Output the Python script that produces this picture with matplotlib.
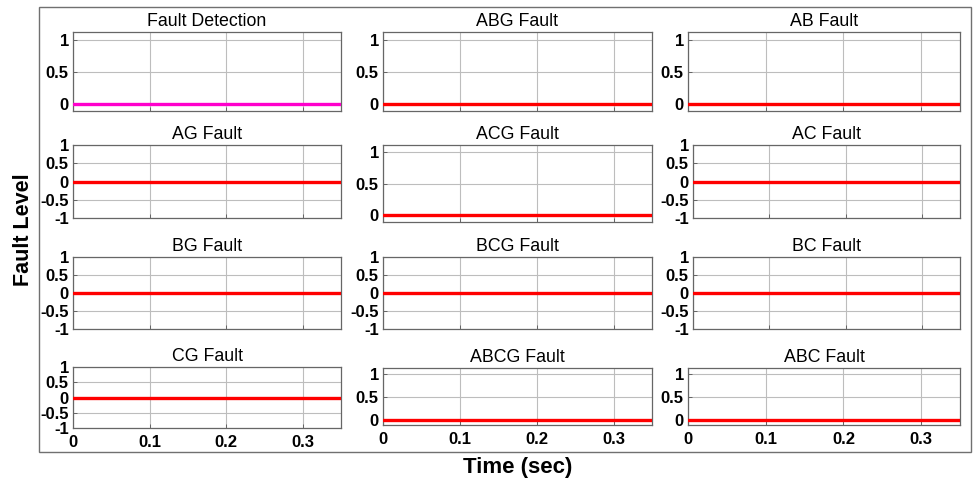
import matplotlib
matplotlib.use("Agg")
import matplotlib.pyplot as plt
from matplotlib.patches import Rectangle

# time axis of every trace (sec)
t = [0.0, 0.35]

titles = ["Fault Detection", "ABG Fault", "AB Fault",
          "AG Fault", "ACG Fault", "AC Fault",
          "BG Fault", "BCG Fault", "BC Fault",
          "CG Fault", "ABCG Fault", "ABC Fault"]

# fault level of each panel over time (flat zero everywhere)
fault_detection = [0, 0]
abg = [0, 0]
ab = [0, 0]
ag = [0, 0]
acg = [0, 0]
ac = [0, 0]
bg = [0, 0]
bcg = [0, 0]
bc = [0, 0]
cg = [0, 0]
abcg = [0, 0]
abc = [0, 0]
levels = [fault_detection, abg, ab, ag, acg, ac, bg, bcg, bc, cg, abcg, abc]

# panels whose y axis runs 0..1 (others -1..1)
unipolar = [True, True, True,
            False, True, False,
            False, False, False,
            False, True, True]

xticks = [0, 0.1, 0.2, 0.3]
xticklabels = ["0", "0.1", "0.2", "0.3"]

W, H = 973, 484
FONT = "Liberation Sans"

# axes boxes in pixels: (left, top, right, bottom)
def box(i):
    r, c = divmod(i, 3)
    uni = unipolar[i]
    lefts = [73, 383, 688 if uni else 693]
    rights = [341, 652, 960]
    rows = [(32, 111), (145, 222 if uni else 218), (257, 329),
            (368, 425) if uni else (367, 428)]
    top, bot = rows[r]
    return lefts[c], top, rights[c], bot

fig = plt.figure(figsize=(W / 100, H / 100), dpi=100)
fig.patches.append(Rectangle((39 / W, 1 - 452 / H), (971 - 39) / W, (452 - 7) / H,
                             transform=fig.transFigure, fill=False,
                             edgecolor="#707070", lw=1.0))

for i in range(12):
    x0, y0, x1, y1 = box(i)
    ax = fig.add_axes([x0 / W, 1 - y1 / H, (x1 - x0) / W, (y1 - y0) / H])
    color = "#ff00cc" if i == 0 else "#ff0000"
    ax.plot(t, levels[i], color=color, lw=2.4, zorder=3)
    ax.set_xlim(0, 0.35)
    if unipolar[i]:
        ax.set_ylim(-0.115, 1.12)
        yt = [0, 0.5, 1]
        ytl = ["0", "0.5", "1"]
    else:
        ax.set_ylim(-1, 1)
        yt = [-1, -0.5, 0, 0.5, 1]
        ytl = ["-1", "-0.5", "0", "0.5", "1"]
    ax.set_yticks(yt)
    ax.set_yticklabels(ytl, fontfamily=FONT, fontweight="bold", fontsize=12)
    ax.set_xticks(xticks)
    if i >= 9:
        ax.set_xticklabels(xticklabels, fontfamily=FONT, fontweight="bold", fontsize=12)
    else:
        ax.set_xticklabels([])
    ax.grid(True, color="#bdbdbd", lw=0.8)
    ax.set_axisbelow(True)
    ax.tick_params(direction="in", length=3, width=0.6, color="#555555")
    ax.tick_params(axis="x", pad=5)
    ax.tick_params(axis="y", pad=3)
    for s in ax.spines.values():
        s.set_color("#666666")
        s.set_linewidth(0.9)
    ax.set_title(titles[i], fontfamily=FONT, fontsize=12.8, pad=4)

fig.text(24 / W, 1 - 230 / H, "Fault Level", rotation=90, ha="center", va="center",
         fontfamily=FONT, fontweight="bold", fontsize=15.5)
fig.text(518 / W, 1 - 467 / H, "Time (sec)", ha="center", va="center",
         fontfamily=FONT, fontweight="bold", fontsize=16)

fig.savefig("out.png", dpi=100)
